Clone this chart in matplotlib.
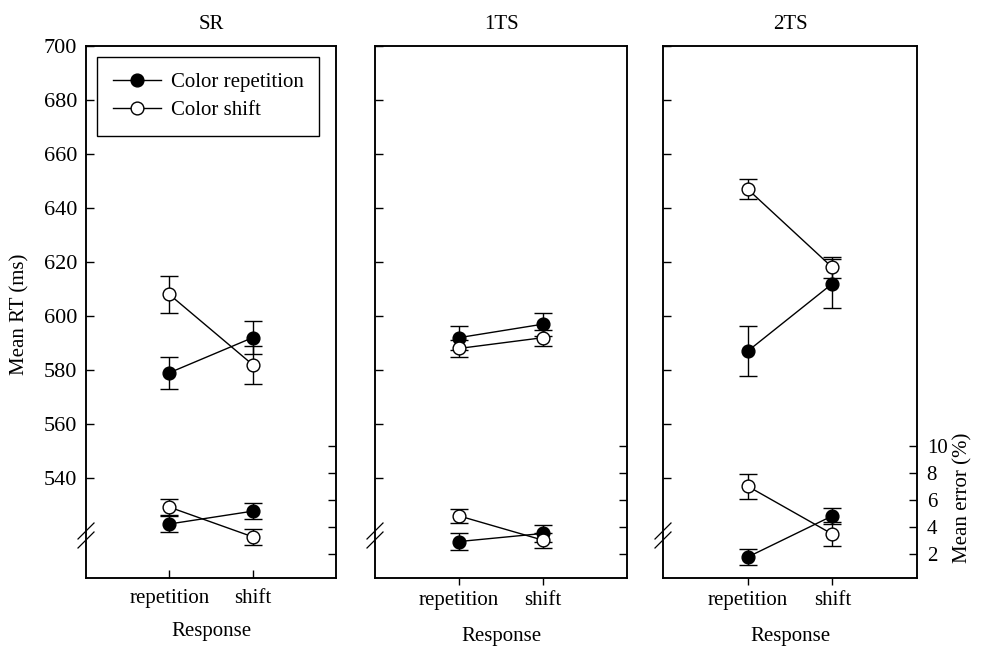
import matplotlib
matplotlib.use("Agg")
import matplotlib.pyplot as plt
from matplotlib.lines import Line2D

plt.rcParams['font.family'] = ['Liberation Serif', 'DejaVu Serif']

conditions = ['SR', '1TS', '2TS']
responses = ['repetition', 'shift']
series_labels = ['Color repetition', 'Color shift']

# Mean RT (ms)
rt_color_rep = {'SR': [579, 592], '1TS': [592, 597], '2TS': [587, 612]}
rt_color_rep_se = {'SR': [6, 6], '1TS': [4.4, 4.3], '2TS': [9.2, 9]}
rt_color_shift = {'SR': [608, 582], '1TS': [588, 592], '2TS': [647, 618]}
rt_color_shift_se = {'SR': [7, 7], '1TS': [3.1, 3.0], '2TS': [3.8, 4]}

# Mean error (%)
er_color_rep = {'SR': [4.2, 5.15], '1TS': [2.9, 3.5], '2TS': [1.75, 4.8]}
er_color_rep_se = {'SR': [0.62, 0.6], '1TS': [0.63, 0.6], '2TS': [0.62, 0.6]}
er_color_shift = {'SR': [5.45, 3.25], '1TS': [4.8, 3.0], '2TS': [7.0, 3.45]}
er_color_shift_se = {'SR': [0.6, 0.6], '1TS': [0.5, 0.55], '2TS': [0.93, 0.9]}

rt_ticks = [540, 560, 580, 600, 620, 640, 660, 680, 700]
er_ticks = [2, 4, 6, 8, 10]

W, H = 982, 646
fig = plt.figure(figsize=(W / 100, H / 100), dpi=100)

# panel pixel boxes (left, right), top=46, bottom=578
boxes = [(86, 336), (375, 627), (663, 917)]
top_px, bot_px = 46, 578

FS = 15
x = [1, 2]
ms = 9.2

for i, cond in enumerate(conditions):
    l, r = boxes[i]
    ax = fig.add_axes([l / W, 1 - bot_px / H, (r - l) / W, (bot_px - top_px) / H])
    ax.set_xlim(0, 3)
    ax.set_ylim(503, 700)
    ax2 = ax.twinx()
    ax2.set_ylim(0.2, 39.6)

    for a in (ax, ax2):
        for s in a.spines.values():
            s.set_linewidth(1.1)

    common = dict(color='black', lw=1.0, elinewidth=1.0, capsize=6.5, capthick=1.0,
                  markersize=ms, markeredgecolor='black', markeredgewidth=1.0)
    # RT data
    ax.errorbar(x, rt_color_rep[cond], yerr=rt_color_rep_se[cond], fmt='-o',
                markerfacecolor='black', zorder=3, **common)
    ax.errorbar(x, rt_color_shift[cond], yerr=rt_color_shift_se[cond], fmt='-o',
                markerfacecolor='white', zorder=4, **common)
    # Error data
    ax2.errorbar(x, er_color_rep[cond], yerr=er_color_rep_se[cond], fmt='-o',
                 markerfacecolor='black', zorder=3, **common)
    ax2.errorbar(x, er_color_shift[cond], yerr=er_color_shift_se[cond], fmt='-o',
                 markerfacecolor='white', zorder=4, **common)

    ax.set_xticks(x)
    ax.set_xticklabels(responses, fontsize=FS)
    ax.set_yticks(rt_ticks)
    ax2.set_yticks(er_ticks)
    ax.tick_params(axis='y', direction='in', length=6, width=1.0, pad=6.5, labelsize=16)
    ax2.tick_params(axis='y', direction='in', length=6, width=1.0, pad=7, labelsize=FS)
    if i == 0:
        ax.tick_params(axis='x', direction='in', length=6, width=1.0, pad=8)
    else:
        ax.tick_params(axis='x', direction='out', length=5, width=1.0, pad=4.5)
        ax.tick_params(axis='y', labelleft=False)
    if i != 2:
        ax2.tick_params(axis='y', labelright=False)

    ax.set_title(cond, fontsize=FS, pad=12)
    ax.set_xlabel('Response', fontsize=FS)
    ax.xaxis.set_label_coords(0.5, -0.082 if i == 0 else -0.093)

    # axis break marks on left spine
    wpx, hpx = r - l, bot_px - top_px
    for yc in (531, 540):
        yf = (bot_px - yc) / hpx
        ax.add_line(Line2D([-8 / wpx, 8 / wpx], [yf - 8 / hpx, yf + 8 / hpx],
                           transform=ax.transAxes, color='black', lw=0.9,
                           clip_on=False))

    if i == 0:
        handles = [
            Line2D([], [], color='black', lw=1.0, marker='o', markersize=ms,
                   markerfacecolor='black', markeredgecolor='black'),
            Line2D([], [], color='black', lw=1.0, marker='o', markersize=ms,
                   markerfacecolor='white', markeredgecolor='black'),
        ]
        leg = ax.legend(handles, series_labels, loc='upper left',
                        bbox_to_anchor=(0.044, 0.979),
                        borderaxespad=0, fontsize=FS, fancybox=False,
                        edgecolor='black', framealpha=1, handlelength=2.3,
                        borderpad=0.75, labelspacing=0.4, handletextpad=0.5)
        leg.get_frame().set_linewidth(1.0)

fig.text(20 / W, 1 - 314 / H, 'Mean RT (ms)', rotation=90, ha='center', va='center',
         fontsize=FS)
fig.text(963 / W, 1 - 498 / H, 'Mean error (%)', rotation=90, ha='center', va='center',
         fontsize=FS)

fig.savefig('out.png', dpi=100)
